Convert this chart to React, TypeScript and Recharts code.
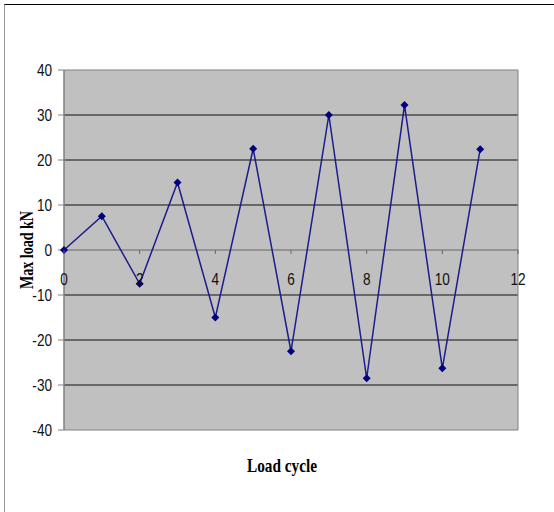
import {
  LineChart,
  Line,
  XAxis,
  YAxis,
  CartesianGrid,
  ReferenceLine,
  ReferenceArea,
} from 'recharts'

const cycles = [0, 1, 2, 3, 4, 5, 6, 7, 8, 9, 10, 11]
const maxLoad = [0, 7.5, -7.5, 15, -15, 22.5, -22.5, 30, -28.5, 32.2, -26.3, 22.4]
const xTicks = [0, 2, 4, 6, 8, 10, 12]
const yTicks = [-40, -30, -20, -10, 0, 10, 20, 30, 40]

const data = cycles.map((c, i) => ({ cycle: c, load: maxLoad[i] }))

const W = 554
const H = 512
const PLOT_H = 360
const TICK_FONT = 'Liberation Sans, Arial, sans-serif'
const TITLE_FONT = 'Liberation Serif, Times New Roman, serif'
// the original uses a narrow font, so squeeze the glyphs
const SQUEEZE = 0.8

function Diamond(props: any) {
  const { cx, cy } = props
  if (cx == null || cy == null) return null
  const r = 4
  return (
    <polygon
      points={`${cx},${cy - r} ${cx + r},${cy} ${cx},${cy + r} ${cx - r},${cy}`}
      fill="#000080"
    />
  )
}

// x ticks sit on the zero line, which is the middle of the plot
function ZeroTick(props: any) {
  const { x, y, payload } = props
  const y0 = y - 8 - PLOT_H / 2
  return (
    <g>
      <line x1={x} y1={y0} x2={x} y2={y0 + 4} stroke="#666" />
      <text
        transform={`translate(${x},${y0 + 35}) scale(${SQUEEZE},1)`}
        textAnchor="middle"
        fontFamily={TICK_FONT}
        fontSize={17}
        fill="#111"
      >
        {payload.value}
      </text>
    </g>
  )
}

function YTick(props: any) {
  const { x, y, payload } = props
  return (
    <text
      transform={`translate(${x},${y}) scale(${SQUEEZE},1)`}
      dy="0.36em"
      textAnchor="end"
      fontFamily={TICK_FONT}
      fontSize={17}
      fill="#111"
    >
      {payload.value}
    </text>
  )
}

export default function App() {
  return (
    <div style={{ position: 'fixed', left: 0, top: 0, width: W, height: H, background: '#fff' }}>
      <div
        style={{
          position: 'absolute',
          left: 4,
          top: 4,
          width: W,
          height: H,
          borderTop: '1px solid #000',
          borderLeft: '1px solid #999',
        }}
      />
      <div style={{ position: 'absolute', left: 0, top: 0 }}>
        <LineChart width={W} height={H} data={data} margin={{ top: 70, right: 36, left: 4, bottom: 20 }}>
          <CartesianGrid
            fill="#c0c0c0"
            stroke="#111"
            vertical={false}
            horizontalValues={[-30, -20, -10, 10, 20, 30]}
          />
          <ReferenceArea x1={0} x2={12} y1={-40} y2={40} fill="none" stroke="#808080" strokeWidth={1} />
          <ReferenceLine y={0} stroke="#666" />
          <XAxis
            dataKey="cycle"
            type="number"
            domain={[0, 12]}
            ticks={xTicks}
            axisLine={false}
            tickLine={false}
            height={62}
            tick={<ZeroTick />}
            interval={0}
            label={(p: any) => {
              const vb = p.viewBox
              const cx = vb.x + vb.width / 2 - 9
              const cy = vb.y + 42
              return (
                <text
                  transform={`translate(${cx},${cy}) scale(0.85,1)`}
                  textAnchor="middle"
                  fontFamily={TITLE_FONT}
                  fontWeight="bold"
                  fontSize={18}
                  fill="#000"
                >
                  Load cycle
                </text>
              )
            }}
          />
          <YAxis
            type="number"
            domain={[-40, 40]}
            ticks={yTicks}
            interval={0}
            width={60}
            axisLine={{ stroke: '#808080' }}
            tickLine={{ stroke: '#808080' }}
            tickSize={6}
            tickMargin={6}
            tick={<YTick />}
            label={(p: any) => {
              const vb = p.viewBox
              const cx = vb.x + 23
              const cy = vb.y + vb.height / 2
              return (
                <text
                  transform={`translate(${cx},${cy}) rotate(-90) scale(0.78,1)`}
                  textAnchor="middle"
                  dominantBaseline="central"
                  fontFamily={TITLE_FONT}
                  fontWeight="bold"
                  fontSize={18}
                  fill="#000"
                >
                  Max load kN
                </text>
              )
            }}
          />
          <Line
            type="linear"
            dataKey="load"
            stroke="#1c1c8c"
            strokeWidth={1.5}
            dot={<Diamond />}
            activeDot={false}
            isAnimationActive={false}
          />
        </LineChart>
      </div>
    </div>
  )
}
